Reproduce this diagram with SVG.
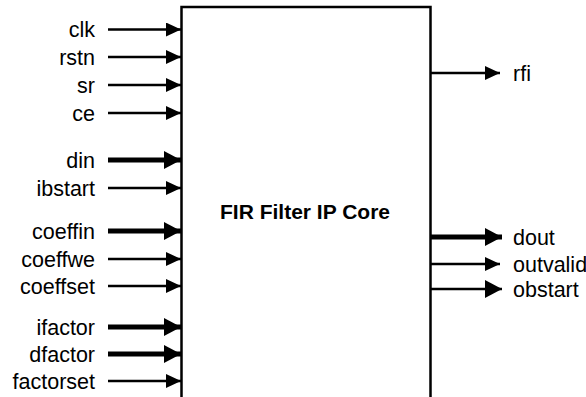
<svg xmlns="http://www.w3.org/2000/svg" width="586" height="397" viewBox="0 0 586 397">
<defs>
<style>
.lbl{font-family:"Liberation Sans",Arial,sans-serif;font-size:21.5px;fill:#000}
.in{text-anchor:end}
.title{font-family:"Liberation Sans",Arial,sans-serif;font-size:21px;font-weight:bold;text-anchor:middle;fill:#000}
.thin{stroke:#000;stroke-width:2.5;fill:none;marker-end:url(#ah)}
.thick{stroke:#000;stroke-width:5;fill:none;marker-end:url(#ahb)}
.thinb{stroke:#000;stroke-width:2.5;fill:none;marker-end:url(#ahb)}
</style>
<marker id="ah" markerUnits="userSpaceOnUse" markerWidth="15" markerHeight="14" refX="15" refY="7" orient="auto"><path d="M0,0 L15,7 L0,14 z" fill="#000"/></marker>
<marker id="ahb" markerUnits="userSpaceOnUse" markerWidth="17" markerHeight="18" refX="17" refY="9" orient="auto"><path d="M0,0 L17,9 L0,18 z" fill="#000"/></marker>
</defs>
<rect width="586" height="397" fill="#fff"/>
<g id="core">
<path d="M181.5,400 V7 H430.5 V400" fill="none" stroke="#000" stroke-width="2.5"/>
<text class="title" x="305" y="219">FIR Filter IP Core</text>
</g>
<g id="ports">
<text class="lbl in" x="95" y="37">clk</text>
<text class="lbl in" x="95" y="64.5">rstn</text>
<text class="lbl in" x="95" y="92.5">sr</text>
<text class="lbl in" x="95" y="120.5">ce</text>
<text class="lbl in" x="95" y="167.5">din</text>
<text class="lbl in" x="95" y="195.5">ibstart</text>
<text class="lbl in" x="95" y="238.5">coeffin</text>
<text class="lbl in" x="95" y="266.5">coeffwe</text>
<text class="lbl in" x="95" y="293.5">coeffset</text>
<text class="lbl in" x="95" y="334.5">ifactor</text>
<text class="lbl in" x="95" y="361.5">dfactor</text>
<text class="lbl in" x="95" y="388.5">factorset</text>
<text class="lbl" x="513" y="80.5">rfi</text>
<text class="lbl" x="513" y="244.5">dout</text>
<text class="lbl" x="513" y="271.5">outvalid</text>
<text class="lbl" x="513" y="296.5">obstart</text>
</g>
<g id="connectors">
<line class="thin" x1="108" y1="29.5" x2="181" y2="29.5"/>
<line class="thin" x1="108" y1="57" x2="181" y2="57"/>
<line class="thin" x1="108" y1="85" x2="181" y2="85"/>
<line class="thin" x1="108" y1="113" x2="181" y2="113"/>
<line class="thick" x1="108" y1="160" x2="181" y2="160"/>
<line class="thin" x1="108" y1="188" x2="181" y2="188"/>
<line class="thick" x1="108" y1="231" x2="181" y2="231"/>
<line class="thin" x1="108" y1="259" x2="181" y2="259"/>
<line class="thin" x1="108" y1="286" x2="181" y2="286"/>
<line class="thick" x1="108" y1="327" x2="181" y2="327"/>
<line class="thick" x1="108" y1="354" x2="181" y2="354"/>
<line class="thin" x1="108" y1="381" x2="181" y2="381"/>
<line class="thin" x1="431" y1="73" x2="500" y2="73"/>
<line class="thick" x1="431" y1="237" x2="502" y2="237"/>
<line class="thin" x1="431" y1="264" x2="500" y2="264"/>
<line class="thinb" x1="431" y1="289" x2="502" y2="289"/>
</g>
</svg>
